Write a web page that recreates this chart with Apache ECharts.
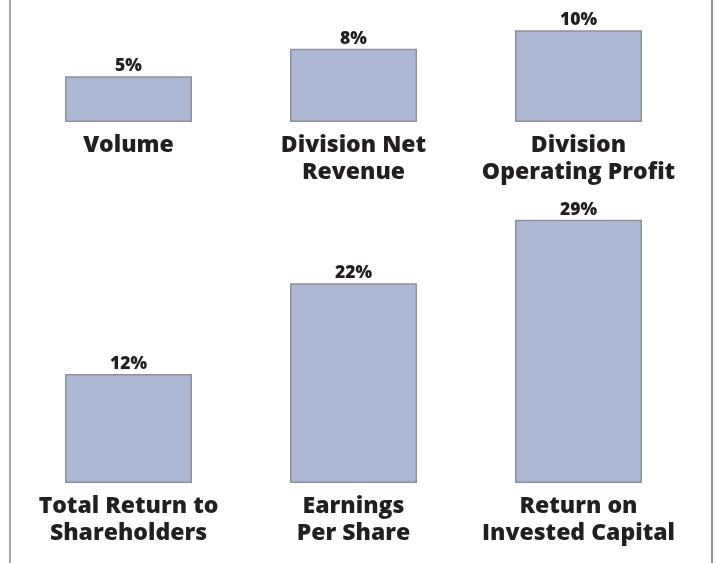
<!DOCTYPE html>
<html>
<head>
<meta charset="utf-8">
<script src="https://cdn.jsdelivr.net/npm/echarts@6/dist/echarts.min.js"></script>
<style>
  html, body { margin: 0; padding: 0; background: #fff; }
  #chart { width: 715px; height: 563px; }
</style>
</head>
<body>
<div id="chart"></div>
<script>
// top row
var topNames = ['Volume', 'Division Net\nRevenue', 'Division\nOperating Profit'];
var topValues = [5, 8, 10];
// bottom row
var bottomNames = ['Total Return to\nShareholders', 'Earnings\nPer Share', 'Return on\nInvested Capital'];
var bottomValues = [12, 22, 29];

var textColor = '#231f20';
var barFill = '#acb7d4';
var barEdge = '#8e9199';

function xAxisFor(names, gridIndex) {
    return {
        type: 'category',
        gridIndex: gridIndex,
        data: names,
        axisLine: { show: false },
        axisTick: { show: false },
        axisLabel: {
            interval: 0,
            margin: 10,
            color: textColor,
            fontFamily: 'Open Sans',
            fontWeight: 800,
            fontSize: 23,
            lineHeight: 27
        }
    };
}

function yAxisFor(max, gridIndex) {
    return {
        type: 'value',
        gridIndex: gridIndex,
        min: 0,
        max: max,
        show: false,
        splitLine: { show: false }
    };
}

function barSeries(values, idx) {
    return {
        type: 'bar',
        xAxisIndex: idx,
        yAxisIndex: idx,
        data: values,
        barWidth: 127,
        itemStyle: {
            color: barFill,
            borderColor: barEdge,
            borderWidth: 1.5
        },
        label: {
            show: true,
            position: 'top',
            distance: 1,
            formatter: '{c}%',
            color: textColor,
            fontFamily: 'Open Sans',
            fontWeight: 800,
            fontSize: 17.5,
            lineHeight: 18
        },
        animation: false
    };
}

var chart = echarts.init(document.getElementById('chart'));
chart.setOption({
    backgroundColor: '#fff',
    grid: [
        { left: 16, right: 24, top: 12, bottom: 441 },
        { left: 16, right: 24, top: 210.6, bottom: 80 }
    ],
    xAxis: [xAxisFor(topNames, 0), xAxisFor(bottomNames, 1)],
    yAxis: [yAxisFor(12, 0), yAxisFor(30, 1)],
    series: [barSeries(topValues, 0), barSeries(bottomValues, 1)],
    graphic: [
        { type: 'rect', left: 9, top: 0, shape: { width: 2, height: 563 }, style: { fill: '#a6a6a6' } },
        { type: 'rect', left: 711, top: 0, shape: { width: 2, height: 563 }, style: { fill: '#8f8f8f' } }
    ]
});
</script>
</body>
</html>
